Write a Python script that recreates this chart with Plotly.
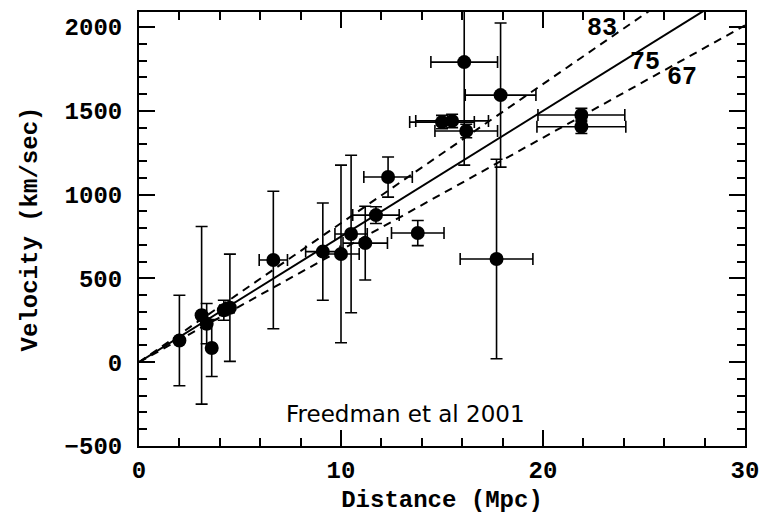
import plotly.graph_objects as go

# Distance (Mpc), velocity (km/s) and their errors
distance = [2.0, 3.1, 3.35, 3.6, 4.2, 4.5, 6.65, 9.1, 10.0, 10.5, 11.2, 11.73,
            12.33, 13.8, 15.0, 15.5, 16.2, 16.1, 17.9, 17.7, 21.9, 21.9]
velocity = [130, 280, 230, 85, 310, 325, 610, 660, 646, 765, 711, 878,
            1105, 771, 1433, 1440, 1380, 1791, 1594, 616, 1475, 1405]
dist_err = [0.1, 0.15, 0.15, 0.15, 0.2, 0.2, 0.7, 0.85, 0.9, 0.8, 1.1, 1.15,
            1.2, 1.3, 1.6, 1.8, 1.55, 1.65, 1.75, 1.8, 2.15, 2.2]
vel_err = [270, 530, 120, 170, 60, 320, 410, 290, 530, 470, 220, 50,
           120, 75, 40, 40, 40, 615, 430, 595, 40, 40]

# Hubble constants for the fit lines
h0_values = [83, 75, 67]
h0_dash = ["8px,6px", "solid", "8px,6px"]
line_d = [0, 30]
label_pos = [(22.9, 1994), (25.05, 1791), (26.9, 1702)]

x_range = [0, 30]
y_range = [-500, 2090]

FONT = "Liberation Mono"

fig = go.Figure()

for h0, dash in zip(h0_values, h0_dash):
    fig.add_trace(go.Scatter(
        x=line_d, y=[h0 * d for d in line_d], mode="lines",
        line=dict(color="black", width=2, dash=dash),
        hoverinfo="skip", showlegend=False))

fig.add_trace(go.Scatter(
    x=distance, y=velocity, mode="markers",
    marker=dict(color="black", size=14),
    error_x=dict(type="data", array=dist_err, color="black", thickness=1.6, width=6),
    error_y=dict(type="data", array=vel_err, color="black", thickness=1.6, width=6),
    showlegend=False))

for h0, (lx, ly) in zip(h0_values, label_pos):
    fig.add_annotation(x=lx, y=ly, text=str(h0), showarrow=False,
                       font=dict(family=FONT, size=25, color="black", weight="bold"))

fig.add_annotation(x=13.2, y=-310, text="Freedman et al 2001", showarrow=False,
                   font=dict(family="DejaVu Sans", size=23, color="black"))

axis_common = dict(
    showgrid=False, zeroline=False, showline=True, linecolor="black", linewidth=2,
    mirror="allticks", ticks="inside", tickcolor="black", tickwidth=2, ticklen=16,
    tickfont=dict(family=FONT, size=24, color="black", weight="bold"),
    automargin=False,
)

fig.update_xaxes(range=x_range, dtick=10, tick0=0,
                 minor=dict(dtick=2, ticks="inside", ticklen=8, tickwidth=2, tickcolor="black"),
                 title=dict(text="Distance (Mpc)", standoff=6,
                            font=dict(family=FONT, size=24, color="black", weight="bold")),
                 ticklabelstandoff=1,
                 **axis_common)
fig.update_yaxes(range=y_range, dtick=500, tick0=0,
                 minor=dict(dtick=100, ticks="inside", ticklen=8, tickwidth=2, tickcolor="black"),
                 title=dict(text="Velocity (km/sec)", standoff=20,
                            font=dict(family=FONT, size=24, color="black", weight="bold")),
                 ticklabelstandoff=10,
                 **axis_common)

fig.update_layout(
    width=761, height=520,
    margin=dict(l=139, r=16, t=12, b=74),
    paper_bgcolor="white", plot_bgcolor="white",
)

fig.write_html("out.html")
